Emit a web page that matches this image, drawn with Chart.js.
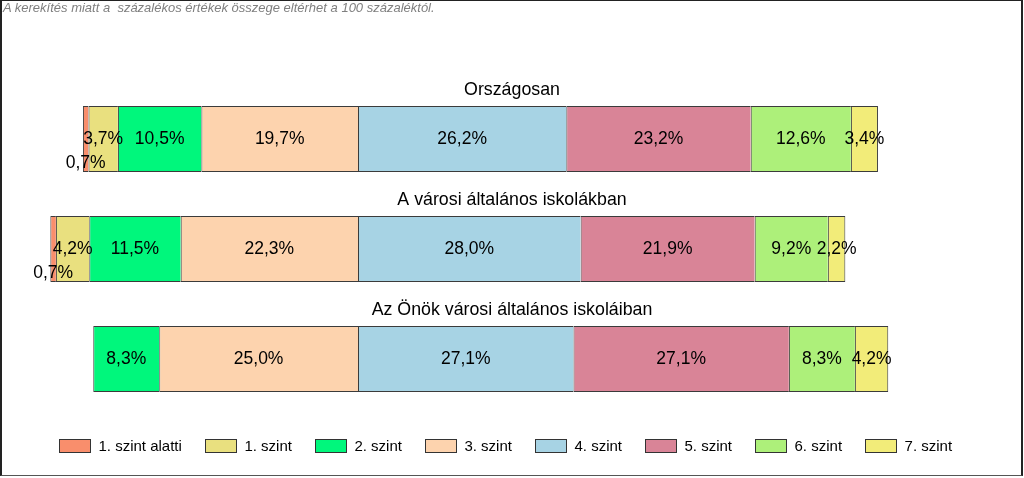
<!DOCTYPE html>
<html>
<head>
<meta charset="utf-8">
<script src="https://cdn.jsdelivr.net/npm/chart.js@4"></script>
<style>
  html, body { margin: 0; padding: 0; background: #fff; }
  #wrap { position: relative; width: 1024px; height: 478px; overflow: hidden; font-family: 'Liberation Sans', Arial, sans-serif; }
  #note { position: absolute; left: 3px; top: 0px; font-size: 13px; line-height: 15px; font-style: italic; color: #7f7f7f; white-space: pre; }
  #legend { position: absolute; left: 59px; top: 436px; display: flex; align-items: center; gap: 23px; font-size: 15px; line-height: 20px; color: #000; white-space: pre; }
  .item { display: flex; align-items: center; }
  .box { width: 30px; height: 12px; border: 1px solid #333; margin-right: 7.5px; }
  #frame { position: absolute; left: 0; top: 0; width: 1023px; height: 476px; box-sizing: border-box; border-left: 2px solid #222; border-top: 1px solid #222; border-right: 2px solid #222; border-bottom: 1px solid #555; pointer-events: none; }
</style>
</head>
<body>
<div id="wrap">
  <canvas id="c" width="1024" height="478"></canvas>
  <div id="note">A kerekítés miatt a  százalékos értékek összege eltérhet a 100 százaléktól.</div>
  <div id="legend"></div>
  <div id="frame"></div>
</div>
<script>
// ---- data ----
const categories = ['Országosan', 'A városi általános iskolákban', 'Az Önök városi általános iskoláiban'];
const levels = ['1. szint alatti', '1. szint', '2. szint', '3. szint', '4. szint', '5. szint', '6. szint', '7. szint'];
const below1 = [0.7, 0.7, 0];
const level1 = [3.7, 4.2, 0];
const level2 = [10.5, 11.5, 8.3];
const level3 = [19.7, 22.3, 25.0];
const level4 = [26.2, 28.0, 27.1];
const level5 = [23.2, 21.9, 27.1];
const level6 = [12.6, 9.2, 8.3];
const level7 = [3.4, 2.2, 4.2];

const colors = ['#F98E6C', '#E9E07F', '#00F77C', '#FDD3AE', '#A7D3E4', '#D98497', '#ADF07A', '#F2EC79'];
const seriesByLevel = [below1, level1, level2, level3, level4, level5, level6, level7];

// levels below 4 go to the left of zero, stacked outward from 3. szint
const stackOrder = [3, 2, 1, 0, 4, 5, 6, 7];
const datasets = stackOrder.map(li => {
  const neg = li < 4;
  return {
    label: levels[li],
    data: seriesByLevel[li].map(v => v ? (neg ? -v : v) : null),
    rawValues: seriesByLevel[li],
    backgroundColor: colors[li],
    borderColor: '#3b3b3b',
    borderWidth: 1,
    borderSkipped: neg ? 'start' : (li === 7 ? false : 'end'),
    barPercentage: 0.6,
    categoryPercentage: 1
  };
});

const fontFam = "'Liberation Sans', Arial, sans-serif";
function fmt(v) { return v.toFixed(1).replace('.', ',') + '%'; }

const labelsPlugin = {
  id: 'segLabels',
  afterDatasetsDraw(chart) {
    const ctx = chart.ctx;
    ctx.save();
    ctx.font = '17.5px ' + fontFam;
    ctx.fillStyle = '#000';
    ctx.textAlign = 'center';
    ctx.textBaseline = 'middle';
    chart.data.datasets.forEach((ds, di) => {
      const meta = chart.getDatasetMeta(di);
      meta.data.forEach((el, i) => {
        const v = ds.rawValues[i];
        if (!v) return;
        const cx = (el.x + el.base) / 2;
        let cy = el.y;
        if (v < 1) cy += 24;
        ctx.fillText(fmt(v), cx, cy);
      });
    });
    ctx.restore();
  }
};

const titlesPlugin = {
  id: 'barTitles',
  afterDraw(chart) {
    const ctx = chart.ctx;
    const ys = chart.scales.y;
    ctx.save();
    ctx.font = '17.8px ' + fontFam;
    ctx.fillStyle = '#000';
    ctx.textAlign = 'center';
    ctx.textBaseline = 'middle';
    categories.forEach((c, i) => {
      ctx.fillText(c, chart.width / 2, ys.getPixelForValue(i) - 49);
    });
    ctx.restore();
  }
};

new Chart(document.getElementById('c'), {
  type: 'bar',
  data: { labels: categories, datasets },
  options: {
    indexAxis: 'y',
    responsive: false,
    devicePixelRatio: 1,
    animation: false,
    layout: { padding: { left: 40, right: 30, top: 84, bottom: 64 } },
    scales: {
      x: { display: false, stacked: true, min: -40, max: 80 },
      y: { display: false, stacked: true }
    },
    plugins: { legend: { display: false }, tooltip: { enabled: false }, title: { display: false } }
  },
  plugins: [labelsPlugin, titlesPlugin]
});

// legend in the natural level order
const lg = document.getElementById('legend');
levels.forEach((name, i) => {
  const it = document.createElement('div');
  it.className = 'item';
  const b = document.createElement('span');
  b.className = 'box';
  b.style.background = colors[i];
  const t = document.createElement('span');
  t.textContent = name;
  it.appendChild(b); it.appendChild(t);
  lg.appendChild(it);
});
</script>
</body>
</html>
